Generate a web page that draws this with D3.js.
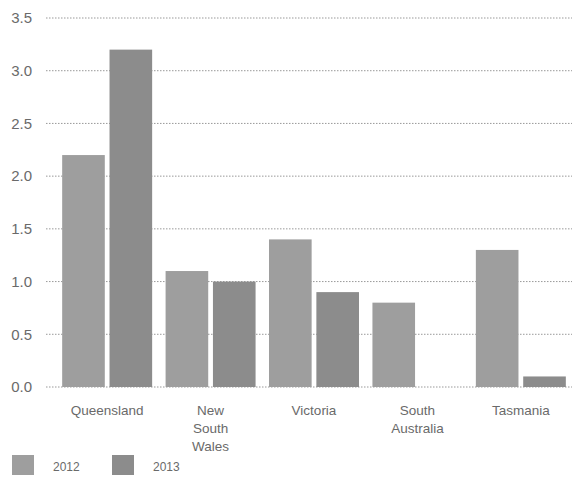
<!DOCTYPE html>
<html>
<head>
<meta charset="utf-8">
<script src="https://cdn.jsdelivr.net/npm/d3@7"></script>
<style>
  body { margin: 0; background: #fff; }
  text { font-family: "Liberation Sans", Arial, sans-serif; fill: #6a6a6a; }
</style>
</head>
<body>
<svg id="chart" width="576" height="503"></svg>
<script>
// chart values
const states = ["Queensland", "New South Wales", "Victoria", "South Australia", "Tasmania"]
const stateLines = [["Queensland"], ["New", "South", "Wales"], ["Victoria"], ["South", "Australia"], ["Tasmania"]]
const years = ["2012", "2013"]
const values2012 = [2.2, 1.1, 1.4, 0.8, 1.3]
const values2013 = [3.2, 1.0, 0.9, 0.0, 0.1]
const yTicks = [0, 0.5, 1.0, 1.5, 2.0, 2.5, 3.0, 3.5]
const colours = ["#9e9e9e", "#8c8c8c"]

const svg = d3.select("#chart")

// scales
const y = d3.scaleLinear().domain([0, 3.5]).range([387, 18])
const x0 = d3.scaleBand().domain(states).range([57, 571]).paddingInner(0.13).paddingOuter(0.05)
const x1 = d3.scaleBand().domain(years).range([0, x0.bandwidth()]).paddingInner(0.1)

// gridlines
const grid = svg.append("g")
grid.selectAll("line")
  .data(yTicks)
  .join("line")
  .attr("x1", 46)
  .attr("x2", 572)
  .attr("y1", d => y(d))
  .attr("y2", d => y(d))
  .attr("stroke", "#999")
  .attr("stroke-width", 1)
  .attr("stroke-dasharray", "1.5,1.5")

// y tick labels
const yAxis = d3.axisLeft(y).tickValues(yTicks).tickFormat(d3.format(".1f")).tickSize(0).tickPadding(0)
const gy = svg.append("g").attr("transform", "translate(32,0)").call(yAxis)
gy.select(".domain").remove()
gy.selectAll("text")
  .attr("font-size", 15)
  .attr("fill", "#707070")
  .attr("font-family", "'Liberation Sans', Arial, sans-serif")

// bars
const rows = states.map((s, i) => ({ state: s, vals: [values2012[i], values2013[i]] }))
const groups = svg.append("g").selectAll("g")
  .data(rows)
  .join("g")
  .attr("transform", d => `translate(${x0(d.state)},0)`)

groups.selectAll("rect")
  .data(d => d.vals.map((v, j) => ({ year: years[j], value: v, j })))
  .join("rect")
  .attr("x", d => x1(d.year))
  .attr("y", d => y(d.value))
  .attr("width", x1.bandwidth())
  .attr("height", d => y(0) - y(d.value))
  .attr("fill", d => colours[d.j])

// category labels
const labels = svg.append("g").selectAll("text")
  .data(states)
  .join("text")
  .attr("x", d => x0(d) + x0.bandwidth() / 2)
  .attr("y", 415)
  .attr("text-anchor", "middle")
  .attr("font-size", 13.5)

labels.selectAll("tspan")
  .data((d, i) => stateLines[i])
  .join("tspan")
  .attr("x", function () { return d3.select(this.parentNode).attr("x") })
  .attr("dy", (d, i) => i === 0 ? 0 : 18)
  .text(d => d)

// legend
const legend = svg.append("g").selectAll("g")
  .data(years)
  .join("g")
  .attr("transform", (d, i) => `translate(${12 + i * 100},455)`)

legend.append("rect")
  .attr("width", 22)
  .attr("height", 20)
  .attr("fill", (d, i) => colours[i])

legend.append("text")
  .attr("x", 41)
  .attr("y", 16)
  .attr("font-size", 12)
  .text(d => d)
</script>
</body>
</html>
